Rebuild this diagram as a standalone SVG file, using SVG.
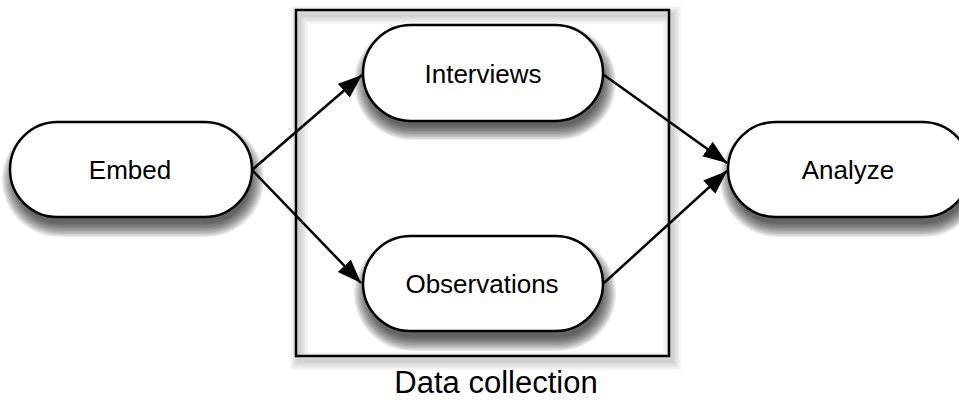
<svg xmlns="http://www.w3.org/2000/svg" width="959" height="400" viewBox="0 0 959 400">
  <defs>
    <!-- soft drop shadow for a 242x95 pill, built from stacked translucent layers -->
    <g id="pillShadow" fill="#000" fill-opacity="0.085">
      <rect x="-10" y="-10" width="262" height="115" rx="57.5"/>
      <rect x="-8.5" y="-8.5" width="259" height="112" rx="56"/>
      <rect x="-7" y="-7" width="256" height="109" rx="54.5"/>
      <rect x="-5.5" y="-5.5" width="253" height="106" rx="53"/>
      <rect x="-4" y="-4" width="250" height="103" rx="51.5"/>
      <rect x="-2.5" y="-2.5" width="247" height="100" rx="50"/>
      <rect x="-1" y="-1" width="244" height="97" rx="48.5"/>
      <rect x="0.5" y="0.5" width="241" height="94" rx="47"/>
      <rect x="2" y="2" width="238" height="91" rx="45.5"/>
      <rect x="3.5" y="3.5" width="235" height="88" rx="44"/>
    </g>
    <marker id="arrow" markerUnits="userSpaceOnUse" markerWidth="26" markerHeight="20" refX="24" refY="9" orient="auto">
      <path d="M0,0 L24,9 L0,18 Z" fill="#000"/>
    </marker>
    <style>
      .node { fill: #fff; stroke: #000; stroke-width: 2.5; }
      .label { font-family: "Liberation Sans", Arial, sans-serif; font-size: 26px; fill: #000; text-anchor: middle; }
      .edge { stroke: #000; stroke-width: 2.5; fill: none; marker-end: url(#arrow); }
      .boxShade { fill: none; stroke: #000; stroke-opacity: 0.03; }
    </style>
  </defs>
  <rect width="959" height="400" fill="#fff"/>

  <g id="data-collection">
    <g transform="translate(3,5)">
      <rect class="boxShade" x="296" y="10" width="373" height="346" stroke-width="18"/>
      <rect class="boxShade" x="296" y="10" width="373" height="346" stroke-width="15"/>
      <rect class="boxShade" x="296" y="10" width="373" height="346" stroke-width="12"/>
      <rect class="boxShade" x="296" y="10" width="373" height="346" stroke-width="9"/>
      <rect class="boxShade" x="296" y="10" width="373" height="346" stroke-width="6"/>
      <rect class="boxShade" x="296" y="10" width="373" height="346" stroke-width="3"/>
    </g>
    <rect x="296" y="10" width="373" height="346" fill="none" stroke="#000" stroke-width="2.5"/>
    <text x="496" y="393" class="label" style="font-size:31px">Data collection</text>
  </g>

  <g id="connectors">
    <line class="edge" x1="252" y1="170" x2="362" y2="75"/>
    <line class="edge" x1="252" y1="170" x2="361" y2="283"/>
    <line class="edge" x1="604" y1="75" x2="727" y2="163"/>
    <line class="edge" x1="604" y1="283" x2="727" y2="171"/>
  </g>

  <g id="embed">
    <use href="#pillShadow" x="12" y="132"/>
    <rect class="node" x="10" y="122" width="242" height="95" rx="47.5"/>
    <text class="label" x="130" y="179">Embed</text>
  </g>

  <g id="interviews">
    <use href="#pillShadow" x="364" y="35"/>
    <rect class="node" x="363" y="25" width="240" height="96" rx="48"/>
    <text class="label" x="483" y="83">Interviews</text>
  </g>

  <g id="observations">
    <use href="#pillShadow" x="364" y="246"/>
    <rect class="node" x="363" y="236" width="240" height="95" rx="47.5"/>
    <text class="label" x="482" y="293">Observations</text>
  </g>

  <g id="analyze">
    <use href="#pillShadow" x="730" y="132"/>
    <rect class="node" x="728" y="122" width="242" height="95" rx="47.5"/>
    <text class="label" x="848" y="179">Analyze</text>
  </g>
</svg>
